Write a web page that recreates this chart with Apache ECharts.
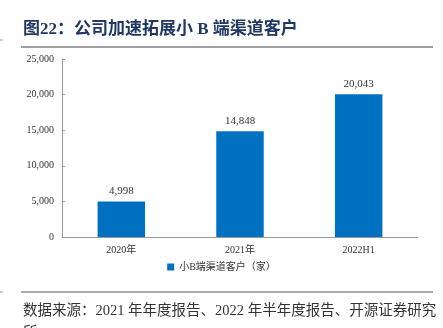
<!DOCTYPE html>
<html><head><meta charset="utf-8">
<script src="https://cdn.jsdelivr.net/npm/echarts@6/dist/echarts.min.js"></script>
<style>html,body{margin:0;padding:0;background:#fff}#c{width:443px;height:328px}</style>
</head><body><div id="c"></div>
<script>
var categories = ['2020年', '2021年', '2022H1'];
var values = [4998, 14848, 20043];
var seriesName = '小B端渠道客户（家）';
var titleText = '图22：公司加速拓展小 B 端渠道客户';
var sourceText = '数据来源：2021 年年度报告、2022 年半年度报告、开源证券研究\n所';
var serif = '"Liberation Serif","Noto Sans CJK SC",serif';

var chart = echarts.init(document.getElementById('c'), null, {renderer: 'canvas'});
chart.setOption({
  animation: false,
  backgroundColor: '#fff',
  graphic: [
    {type: 'text', left: 23, top: 21, style: {text: titleText, fill: '#1F3864', font: 'bold 17px ' + serif}},
    {type: 'line', shape: {x1: 21, y1: 47, x2: 433, y2: 47}, style: {stroke: '#7f7f7f', lineWidth: 1.5}},
    {type: 'line', shape: {x1: 0, y1: 40, x2: 3, y2: 40}, style: {stroke: '#999', lineWidth: 1}},
    {type: 'line', shape: {x1: 21, y1: 292, x2: 433, y2: 292}, style: {stroke: '#555', lineWidth: 1}},
    {type: 'line', shape: {x1: 0, y1: 292, x2: 3, y2: 292}, style: {stroke: '#999', lineWidth: 1}},
    {type: 'text', left: 23, top: 300, style: {text: sourceText, fill: '#333', font: '14.5px ' + serif, lineHeight: 22}}
  ],
  legend: {
    bottom: 51, left: 'center',
    itemWidth: 7, itemHeight: 7, icon: 'rect',
    textStyle: {fontSize: 10, color: '#333', fontFamily: serif},
    data: [seriesName]
  },
  grid: {left: 62, right: 25, top: 59, bottom: 91, containLabel: false},
  xAxis: {
    type: 'category', data: categories,
    axisLine: {lineStyle: {color: '#999'}},
    axisTick: {inside: true, length: 3, lineStyle: {color: '#999'}},
    axisLabel: {fontSize: 10, color: '#333', fontFamily: serif, margin: 8}
  },
  yAxis: {
    type: 'value', min: 0, max: 25000, interval: 5000,
    axisLine: {show: true, lineStyle: {color: '#999'}},
    axisTick: {show: true, inside: true, length: 3, lineStyle: {color: '#999'}},
    splitLine: {show: false},
    axisLabel: {fontSize: 10, color: '#333', fontFamily: serif, margin: 8,
      formatter: function (v) { return v.toLocaleString('en-US'); }}
  },
  series: [{
    name: seriesName, type: 'bar', data: values, barWidth: '40%',
    itemStyle: {color: '#0070C0'},
    label: {show: true, position: 'top', fontSize: 11, color: '#333', fontFamily: serif,
      formatter: function (p) { return p.value.toLocaleString('en-US'); }}
  }]
});
</script></body></html>
